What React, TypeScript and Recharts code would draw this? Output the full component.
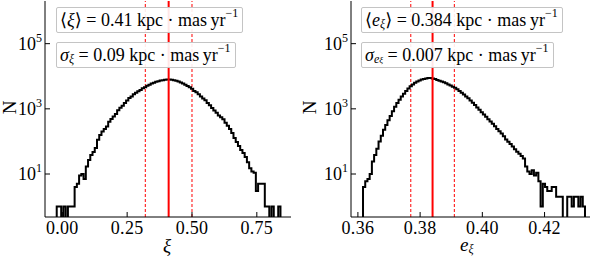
import React from 'react';
import { ComposedChart, Line, XAxis, YAxis, ReferenceLine } from 'recharts';

// histogram of xi: 100 bins between xiRange
const xiRange = [-0.0216, 0.8412];
const xiCounts = [
  1, 1, 0, 1, 0, 1, 1, 1, 4, 5,
  9, 10, 7, 17, 27, 38, 47, 63, 112, 158,
  200, 240, 285, 398, 490, 580, 700, 900, 1080, 1250,
  1500, 1800, 2140, 2400, 2800, 3100, 3470, 3800, 4270, 4570,
  5130, 5500, 6000, 6300, 6760, 7080, 7400, 7600, 7760, 7900,
  7900, 7760, 7600, 7240, 6900, 6460, 6000, 5500, 5010, 4570,
  4170, 3550, 3240, 2820, 2400, 2090, 1820, 1510, 1290, 1070,
  890, 760, 630, 550, 480, 372, 302, 240, 182, 128,
  96, 72, 55, 44, 33, 23, 15, 12, 11, 3,
  5, 5, 5, 1, 1, 0, 1, 0, 0, 1,
];
const xiMean = 0.41;
const xiSigma = 0.09;
const xiTicks = [0, 0.25, 0.5, 0.75];

// histogram of e_xi
const exiRange = [0.36164, 0.433];
const exiCounts = [
  4, 6, 7, 10, 24, 38, 60, 100, 150, 230,
  320, 450, 600, 850, 1150, 1500, 1900, 2400, 2900, 3500,
  4200, 4900, 5600, 6300, 6900, 7400, 7900, 8300, 8600, 8800,
  8800, 8600, 8200, 7700, 7300, 6900, 6500, 6100, 5600, 5200,
  4800, 4400, 4000, 3500, 3100, 2750, 2400, 2100, 1800, 1550,
  1300, 1100, 930, 790, 670, 570, 480, 410, 350, 290,
  240, 205, 175, 145, 115, 97, 83, 70, 58, 48,
  42, 36, 30, 17, 12, 10, 13, 9, 11, 6,
  1, 5, 4, 3, 3, 4, 4, 2, 2, 2,
  0, 0, 2, 2, 1, 2, 2, 1, 2, 1,
];
const exiMean = 0.384;
const exiSigma = 0.007;
const exiTicks = [0.36, 0.38, 0.4, 0.42];

const yTicks = [10, 1000, 100000];
const yDomain = [0.479, 2.04e6];

const FONT = "'Times New Roman', 'Liberation Serif', 'DejaVu Serif', serif";
const FLOOR = 0.05;

function stepData(range: number[], counts: number[]) {
  const w = (range[1] - range[0]) / counts.length;
  const pts = [{ x: range[0], n: FLOOR }];
  counts.forEach((c, i) => pts.push({ x: range[0] + i * w, n: c > 0 ? c : FLOOR }));
  pts.push({ x: range[1], n: FLOOR });
  return pts;
}

const PowTick = (props: any) => {
  const { x, y, payload } = props;
  const exp = Math.round(Math.log10(payload.value));
  return (
    <text x={x} y={y + 6} textAnchor="end" style={{ fontFamily: FONT }} fontSize={18} fill="#000">
      10<tspan dy={-8} fontSize={12}>{exp}</tspan>
    </text>
  );
};

const XTick = (props: any) => {
  const { x, y, payload, decimals } = props;
  return (
    <text x={x} y={y + 12} textAnchor="middle" style={{ fontFamily: FONT, letterSpacing: 0.3 }} fontSize={18} fill="#000">
      {payload.value.toFixed(decimals)}
    </text>
  );
};

const blank = () => '';

const Panel = ({ range, counts, mean, sigma, ticks, xDomain, decimals, margin, yWidth, width }: any) => (
  <ComposedChart width={width} height={257} data={stepData(range, counts)} margin={margin}>
    <XAxis dataKey="x" type="number" domain={xDomain} allowDataOverflow ticks={ticks}
      height={40} stroke="#000" tickSize={-5} tickMargin={10}
      tick={<XTick decimals={decimals} />} />
    <XAxis xAxisId="top" orientation="top" type="number" domain={xDomain} allowDataOverflow ticks={ticks}
      tickFormatter={blank} height={0} stroke="#000" tickSize={-5} />
    <YAxis dataKey="n" type="number" scale="log" domain={yDomain} allowDataOverflow ticks={yTicks}
      width={yWidth} stroke="#000" tickSize={-5} tickMargin={8} tick={<PowTick />} />
    <YAxis yAxisId="right" orientation="right" type="number" scale="log" domain={yDomain} allowDataOverflow
      ticks={yTicks} tickFormatter={blank} width={0} stroke="#000" tickSize={-5} />
    <ReferenceLine x={mean - sigma} stroke="#ff0000" strokeWidth={1} strokeDasharray="3 2" />
    <ReferenceLine x={mean + sigma} stroke="#ff0000" strokeWidth={1} strokeDasharray="3 2" />
    <Line dataKey="n" type="stepAfter" stroke="#000" strokeWidth={2} dot={false} isAnimationActive={false} />
    <ReferenceLine x={mean} stroke="#ff0000" strokeWidth={2} />
  </ComposedChart>
);

const boxStyle: React.CSSProperties = {
  position: 'absolute', height: 26, boxSizing: 'border-box', border: '1px solid #c4c4c4',
  borderRadius: 2, background: 'rgba(255,255,255,0.9)', fontFamily: FONT, fontSize: 18,
  display: 'flex', alignItems: 'center', padding: '0 4px 0 3px',
  whiteSpace: 'nowrap', color: '#000',
};
const sup: React.CSSProperties = { fontSize: 12, position: 'relative', top: -7, lineHeight: 0 };
const sub: React.CSSProperties = { fontSize: 12, position: 'relative', top: 4, lineHeight: 0 };
const units = (
  <>&nbsp;kpc&nbsp;·&nbsp;mas&thinsp;yr<span style={sup}>−1</span></>
);

const label: React.CSSProperties = {
  position: 'absolute', fontFamily: FONT, fontSize: 19, color: '#000', lineHeight: 1,
};

export default function App() {
  return (
    <div style={{ position: 'absolute', left: 0, top: 0, width: 598, height: 257, background: '#fff', fontFamily: FONT }}>
      <div style={{ position: 'absolute', left: 0, top: 0 }}>
        <Panel range={xiRange} counts={xiCounts} mean={xiMean} sigma={xiSigma} ticks={xiTicks}
          xDomain={[-0.0668, 0.8818]} decimals={2} width={300}
          margin={{ top: 1, right: 9, left: 0, bottom: 0 }} yWidth={45} />
      </div>
      <div style={{ position: 'absolute', left: 300, top: 0 }}>
        <Panel range={exiRange} counts={exiCounts} mean={exiMean} sigma={exiSigma} ticks={exiTicks}
          xDomain={[0.35778, 0.43461]} decimals={2} width={298}
          margin={{ top: 1, right: 8, left: 1, bottom: 0 }} yWidth={50} />
      </div>

      <div style={{ ...label, left: 3, top: 98, transform: 'rotate(-90deg)' }}>N</div>
      <div style={{ ...label, left: 303, top: 98, transform: 'rotate(-90deg)' }}>N</div>
      <div style={{ ...label, left: 163, top: 236, fontStyle: 'italic' }}>ξ</div>
      <div style={{ ...label, left: 460, top: 235, fontStyle: 'italic' }}>
        e<span style={{ fontSize: 12, position: 'relative', top: 2, lineHeight: 0 }}>ξ</span>
      </div>

      <div style={{ ...boxStyle, left: 56, top: 7 }}>
        ⟨<i>ξ</i>⟩&nbsp;=&nbsp;0.41{units}
      </div>
      <div style={{ ...boxStyle, left: 56, top: 42 }}>
        <i>σ</i><span style={sub}><i>ξ</i></span>&nbsp;=&nbsp;0.09{units}
      </div>
      <div style={{ ...boxStyle, left: 361, top: 7 }}>
        ⟨<i>e</i><span style={sub}><i>ξ</i></span>⟩&nbsp;=&nbsp;0.384{units}
      </div>
      <div style={{ ...boxStyle, left: 361, top: 42 }}>
        <i>σ</i><span style={sub}><i>e</i><span style={{ fontSize: 9 }}><i>ξ</i></span></span>&nbsp;=&nbsp;0.007{units}
      </div>
    </div>
  );
}
